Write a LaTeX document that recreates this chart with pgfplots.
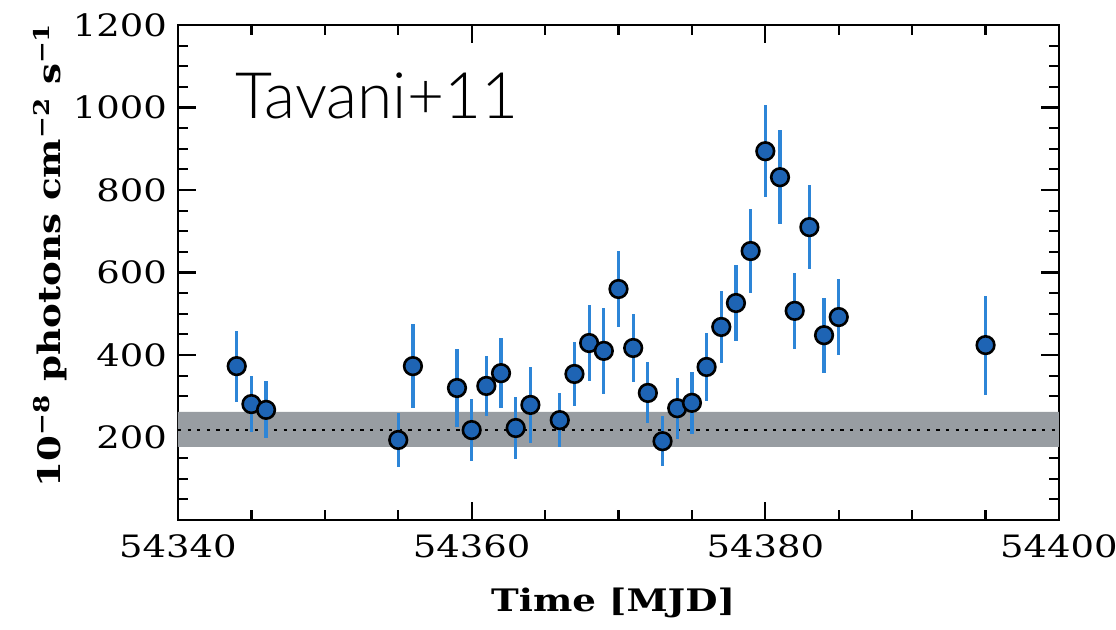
\documentclass[border=0pt]{standalone}
\usepackage{fontspec}
\setmainfont{DejaVu Serif}
\newfontfamily\tickfont[FakeStretch=1.2]{DejaVu Serif}
\newfontfamily\labelfont[FakeStretch=1.2]{DejaVu Serif Bold}
\newfontfamily\tagfont{Lato Light}
\usepackage{pgfplots}
\pgfplotsset{compat=1.18}
\usepackage{pgfplotstable}

\definecolor{markblue}{RGB}{30,100,180}
\definecolor{barblue}{RGB}{45,133,215}
\definecolor{bandgray}{RGB}{152,157,162}

% AGILE light curve: MJD, flux, symmetric 1-sigma error
\pgfplotstableread{
x      y    e
54344  373  86
54345  281  68
54346  267  69
54355  194  66
54356  373  102
54359  320  95
54360  218  76
54361  325  73
54362  356  85
54363  223  75
54364  279  93
54366  242  66
54367  354  77
54368  429  93
54369  410  105
54370  560  93
54371  417  82
54372  308  74
54373  191  61
54374  271  74
54375  284  75
54376  371  82
54377  468  87
54378  526  93
54379  652  102
54380  894  111
54381  831  114
54382  507  92
54383  710  101
54384  448  91
54385  492  93
54395  424  120
}\fluxdata

\begin{document}
\begin{tikzpicture}
\begin{axis}[
  at={(0,0)}, anchor=south west,
  scale only axis,
  width=440.5pt, height=247.5pt,
  xmin=54340, xmax=54400,
  ymin=0, ymax=1200,
  xtick={54340,54360,54380,54400},
  xticklabels={54340,54360,54380,54400},
  scaled x ticks=false,
  minor xtick={54345,54350,...,54395},
  ytick={200,400,...,1200},
  minor ytick={50,100,...,1150},
  tick align=inside,
  major tick length=9pt,
  minor tick length=5pt,
  every tick/.style={black, line width=1.1pt},
  axis line style={line width=1.2pt},
  /pgf/number format/1000 sep={},
  /pgf/number format/assume math mode=true,
  ticklabel style={font=\tickfont\fontsize{15.4}{17}\selectfont},
  xticklabel style={yshift=-4pt},
  yticklabel style={xshift=-2pt},
  xlabel={Time [MJD]},
  ylabel={10\textsuperscript{\char"2212 8} photons cm\textsuperscript{\char"2212 2} s\textsuperscript{\char"2212 1}},
  label style={font=\labelfont\fontsize{15.5}{17}\selectfont},
  xlabel style={at={(axis description cs:0.494,-0.168)}, anchor=center},
  ylabel style={at={(axis description cs:-0.145,0.535)}, anchor=center},
  clip=false,
]
% quiescent level and its uncertainty band
\addplot[fill=bandgray, draw=none, forget plot]
  coordinates {(54340,177) (54400,177) (54400,262) (54340,262) (54340,177)};
\addplot[black, line width=1.2pt, dash pattern=on 1.6pt off 3.2pt]
  coordinates {(54340,218) (54400,218)};
% error bars
\addplot[only marks, mark=none,
  error bars/.cd, y dir=both, y explicit,
  error mark=none, error bar style={barblue, line width=1.6pt}]
  table[x=x, y=y, y error=e] {\fluxdata};
% flux points
\addplot[only marks, mark=*, mark size=4.4pt,
  mark options={fill=markblue, draw=black, line width=1.3pt}]
  table[x=x, y=y] {\fluxdata};
\node[anchor=base west, font=\tagfont\fontsize{32}{36}\selectfont]
  at (axis description cs:0.057,0.812) {Tavani+11};
\end{axis}
\pgfresetboundingbox
\useasboundingbox (-89pt,-55pt) rectangle (469pt,260pt);
\end{tikzpicture}
\end{document}
